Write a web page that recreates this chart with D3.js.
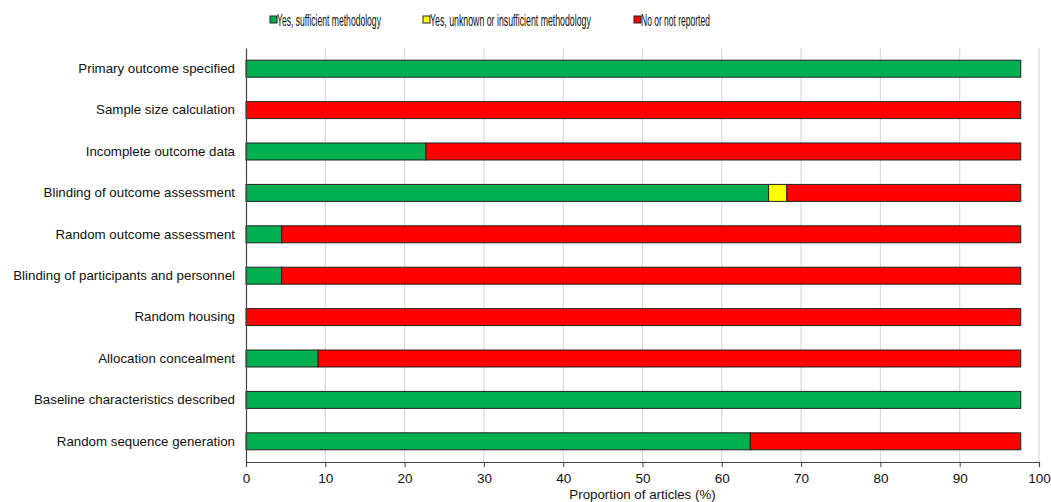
<!DOCTYPE html>
<html>
<head>
<meta charset="utf-8">
<script src="https://cdn.jsdelivr.net/npm/d3@7"></script>
<style>
  body { margin: 0; background: #fff; }
  text { font-family: "Liberation Sans", Arial, sans-serif; fill: #111; }
</style>
</head>
<body>
<div id="chart"></div>
<script>
// items, top to bottom as drawn
const items = [
  'Primary outcome specified',
  'Sample size calculation',
  'Incomplete outcome data',
  'Blinding of outcome assessment',
  'Random outcome assessment',
  'Blinding of participants and personnel',
  'Random housing',
  'Allocation concealment',
  'Baseline characteristics described',
  'Random sequence generation'
];
const sufficient   = [97.7, 0, 22.7, 65.9, 4.5, 4.5, 0, 9.1, 97.7, 63.6];
const insufficient = [0, 0, 0, 2.3, 0, 0, 0, 0, 0, 0];
const notReported  = [0, 97.7, 75.0, 29.5, 93.2, 93.2, 97.7, 88.6, 0, 34.1];

const seriesNames = ['Yes, sufficient methodology', 'Yes, unknown or insufficient methodology', 'No or not reported'];
const seriesKeys = ['suff', 'insuff', 'no'];
const colors = ['#00b050', '#ffff00', '#ff0000'];
const xTicks = [0, 10, 20, 30, 40, 50, 60, 70, 80, 90, 100];

const W = 1051, H = 502;
const margin = { top: 48, right: 12, bottom: 40, left: 246 };

const rows = items.map((name, i) => ({
  name, suff: sufficient[i], insuff: insufficient[i], no: notReported[i]
}));

const svg = d3.select('#chart').append('svg')
  .attr('width', W).attr('height', H);

const x = d3.scaleLinear().domain([0, 100]).range([margin.left, W - margin.right]);
const y = d3.scaleBand().domain(items).range([margin.top, H - margin.bottom]).paddingInner(0.59).paddingOuter(0.295);

// gridlines
svg.append('g').selectAll('line')
  .data(xTicks.filter(d => d > 0))
  .join('line')
  .attr('x1', d => x(d)).attr('x2', d => x(d))
  .attr('y1', margin.top).attr('y2', H - margin.bottom)
  .attr('stroke', '#d9d9d9').attr('stroke-width', 1.2);

// stacked bars
const stack = d3.stack().keys(seriesKeys)(rows);
svg.append('g').selectAll('g')
  .data(stack)
  .join('g')
  .attr('fill', (d, i) => colors[i])
  .selectAll('rect')
  .data(d => d.filter(p => p[1] - p[0] > 0))
  .join('rect')
  .attr('x', d => x(d[0]))
  .attr('y', d => y(d.data.name))
  .attr('width', d => x(d[1]) - x(d[0]))
  .attr('height', y.bandwidth())
  .attr('stroke', '#222').attr('stroke-width', 1);

// x axis
const xAxis = svg.append('g')
  .attr('transform', `translate(0,${H - margin.bottom})`)
  .call(d3.axisBottom(x).tickValues(xTicks).tickSize(5).tickPadding(6));
xAxis.select('.domain').attr('stroke', '#444').attr('stroke-width', 1.2);
xAxis.selectAll('.tick line').attr('stroke', '#444');
xAxis.selectAll('text').attr('font-size', 13.5).attr('fill', '#111')
  .attr('font-family', '"Liberation Sans", Arial, sans-serif');

// y axis (labels only, plus the line)
const yAxis = svg.append('g')
  .attr('transform', `translate(${margin.left},0)`)
  .call(d3.axisLeft(y).tickSize(0).tickPadding(11));
yAxis.select('.domain').attr('stroke', '#444').attr('stroke-width', 1.2);
yAxis.selectAll('text').attr('font-size', 13.3).attr('fill', '#111')
  .attr('font-family', '"Liberation Sans", Arial, sans-serif');

// axis title
svg.append('text')
  .attr('x', (x(0) + x(100)) / 2).attr('y', H - 3)
  .attr('text-anchor', 'middle').attr('font-size', 13.3)
  .text('Proportion of articles (%)');

// legend (condensed type, as in the original)
const legendX = [270, 423, 634];
const legendW = [104, 161, 69];
const legend = svg.append('g').selectAll('g')
  .data(seriesNames)
  .join('g')
  .attr('transform', (d, i) => `translate(${legendX[i]},20)`);
legend.append('rect')
  .attr('x', 0).attr('y', -4).attr('width', 7).attr('height', 7)
  .attr('fill', (d, i) => colors[i]).attr('stroke', '#222').attr('stroke-width', 1);
legend.append('text')
  .attr('y', 0).attr('dy', '0.35em')
  .attr('font-size', 16)
  .attr('font-family', '"Liberation Sans Narrow", "Liberation Sans", Arial, sans-serif')
  .text(d => d)
  .each(function (d, i) {
    const w = this.getComputedTextLength();
    const s = legendW[i] / w;
    d3.select(this).attr('transform', `translate(7,0) scale(${s},1)`);
  });
</script>
</body>
</html>
